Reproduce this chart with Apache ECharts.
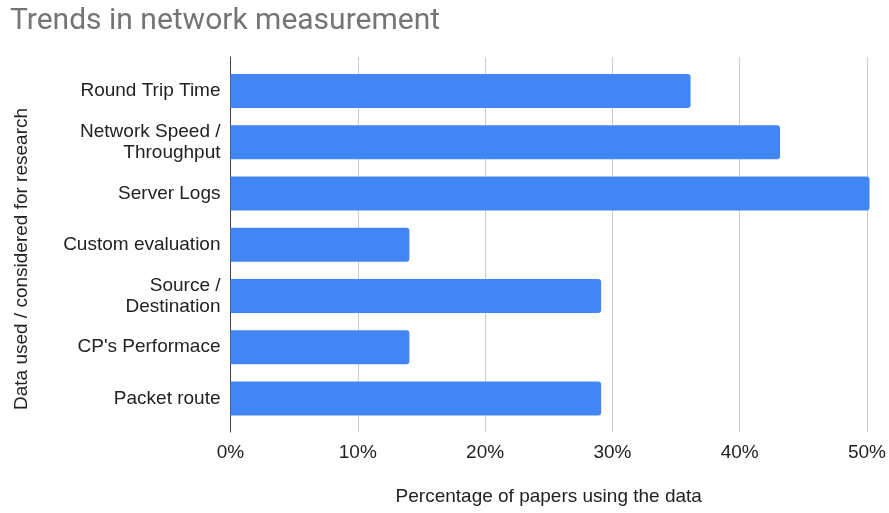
<!DOCTYPE html>
<html>
<head>
<meta charset="utf-8">
<script src="https://cdn.jsdelivr.net/npm/echarts@6/dist/echarts.min.js"></script>
<style>
  html, body { margin: 0; padding: 0; background: #ffffff; }
  #chart { width: 889px; height: 513px; }
</style>
</head>
<body>
<div id="chart"></div>
<script>
// Share of surveyed papers that used each kind of data (percent)
const categories = [
  'Round Trip Time',
  'Network Speed /\nThroughput',
  'Server Logs',
  'Custom evaluation',
  'Source /\nDestination',
  "CP's Performace",
  'Packet route'
];
const percentages = [36, 43, 50, 14, 29, 14, 29];
const xTicks = { min: 0, max: 50, step: 10 };

const titleText = 'Trends in network measurement';
const xAxisTitle = 'Percentage of papers using the data';
const yAxisTitle = 'Data used / considered for research';

const FONT = '"Liberation Sans", Arial, sans-serif';
const TEXT_SIZE = 19;
const LEFT = 230.5, RIGHT = 19.5;

const chart = echarts.init(document.getElementById('chart'), null, { renderer: 'canvas' });

chart.setOption({
  backgroundColor: '#ffffff',
  animation: false,
  title: {
    text: titleText,
    left: 10,
    top: 6,
    padding: 0,
    textStyle: {
      fontFamily: 'Roboto, sans-serif',
      fontSize: 30,
      fontWeight: 'normal',
      color: '#757575'
    }
  },
  grid: [
    // frame grid: gridlines, percentage axis, baseline
    { left: LEFT, right: RIGHT, top: 57, bottom: 81 },
    // bar grid: category bands
    { left: LEFT, right: RIGHT, top: 65.4, bottom: 89 }
  ],
  xAxis: [
    {
      gridIndex: 0,
      type: 'value',
      min: xTicks.min,
      max: xTicks.max,
      interval: xTicks.step,
      axisLine: { show: false },
      axisTick: { show: false },
      splitLine: { show: true, lineStyle: { color: '#cccccc', width: 1 } },
      axisLabel: {
        formatter: '{value}%',
        margin: 11,
        fontFamily: FONT,
        fontSize: TEXT_SIZE,
        color: '#222222'
      },
      name: xAxisTitle,
      nameLocation: 'middle',
      nameGap: 55,
      nameTextStyle: { fontFamily: FONT, fontSize: TEXT_SIZE, color: '#222222' }
    },
    {
      gridIndex: 1,
      type: 'value',
      min: xTicks.min,
      max: xTicks.max,
      interval: xTicks.step,
      show: false
    }
  ],
  yAxis: [
    {
      gridIndex: 0,
      type: 'value',
      min: 0,
      max: 1,
      axisLine: { show: true, lineStyle: { color: '#444444', width: 1 } },
      axisTick: { show: false },
      axisLabel: { show: false },
      splitLine: { show: false }
    },
    {
      gridIndex: 1,
      type: 'category',
      data: categories,
      inverse: true,
      axisLine: { show: false },
      axisTick: { show: false },
      splitLine: { show: false },
      axisLabel: {
        margin: 10,
        fontFamily: FONT,
        fontSize: TEXT_SIZE,
        lineHeight: 21,
        color: '#222222',
        align: 'right'
      }
    }
  ],
  graphic: [
    {
      type: 'text',
      x: 22,
      y: 259,
      rotation: Math.PI / 2,
      style: {
        text: yAxisTitle,
        fontFamily: FONT,
        fontSize: TEXT_SIZE,
        fill: '#222222',
        align: 'center',
        verticalAlign: 'middle'
      }
    }
  ],
  series: [
    {
      type: 'bar',
      xAxisIndex: 1,
      yAxisIndex: 1,
      data: percentages,
      barWidth: 34,
      itemStyle: { color: '#4285f4', borderRadius: [0, 3, 3, 0] },
      z: 3
    }
  ]
});
</script>
</body>
</html>
